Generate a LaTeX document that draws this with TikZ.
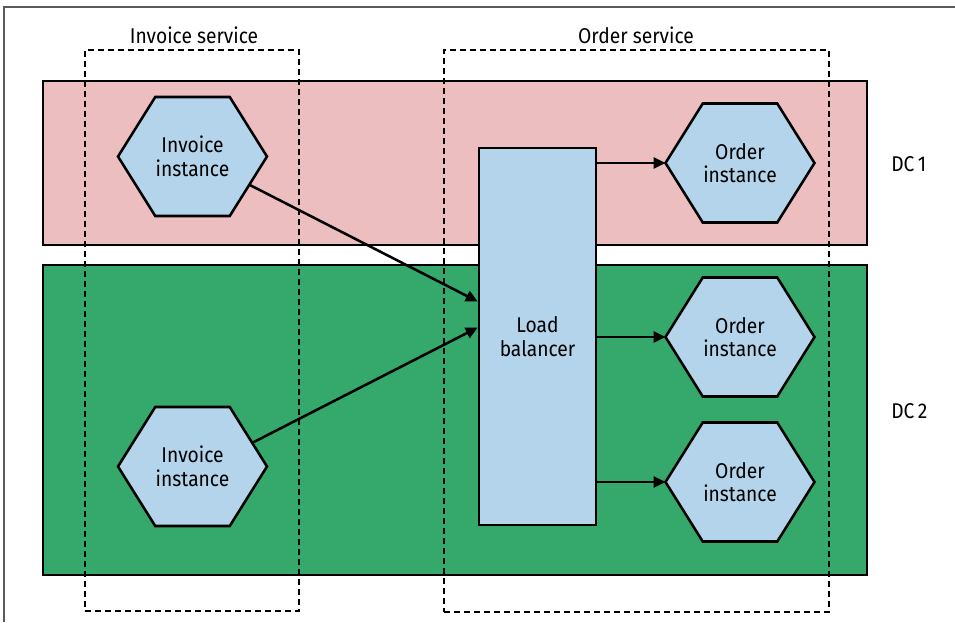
\documentclass[tikz,border=0pt]{standalone}
\usepackage{fontspec}
\setmainfont[FakeStretch=0.9]{Fira Sans}
\usetikzlibrary{arrows.meta,positioning,calc}
\definecolor{dcpink}{RGB}{236,190,192}
\definecolor{dcgreen}{RGB}{53,168,107}
\definecolor{nodeblue}{RGB}{179,212,234}
\definecolor{framegray}{RGB}{90,90,90}

\begin{document}
\begin{tikzpicture}[
  line width=1.8pt,
  txt/.style={font=\fontsize{15.2}{16.8}\selectfont, align=center, inner sep=0pt},
  dcbox/.style={draw, rectangle},
  svcbox/.style={draw, rectangle, dash pattern=on 0.15cm off 0.1cm},
  lbbox/.style={draw, rectangle, fill=nodeblue, txt, minimum width=2.925cm, minimum height=9.425cm},
  hexa/.style={txt, minimum width=3.925cm, minimum height=3.125cm, outer xsep=-0.1cm, outer ysep=-0.075cm,
    path picture={\draw[line width=1.8pt, fill=nodeblue]
      ($(path picture bounding box.center)+(-1.8625,0)$) -- ++(0.93125,1.4875) -- ++(1.8625,0)
      -- ++(0.93125,-1.4875) -- ++(-0.93125,-1.4875) -- ++(-1.8625,0) -- cycle;}},
  arr/.style={-{Triangle[length=0.3cm, width=0.28cm]}},
]
\useasboundingbox (0,0) rectangle (23.875,-15.55);
\draw[framegray, line width=1pt] (0.1,-15.55) -- (0.1,-0.175) -- (23.875,-0.175);

% data centres
\node[dcbox, fill=dcpink, minimum width=20.6cm, minimum height=4.1cm] (dc1) at (11.375,-4.075) {};
\node[dcbox, fill=dcgreen, minimum width=20.6cm, minimum height=7.75cm] (dc2) at (11.375,-10.5) {};
\node[txt, anchor=west] (dc1lbl) at (22.25,-4.1) {DC\,1};
\node[txt, anchor=west] (dc2lbl) at (22.25,-10.29) {DC\,2};

% services
\node[svcbox, minimum width=5.35cm, minimum height=14.025cm] (invsvc) at (4.8,-8.2625) {};
\node[svcbox, minimum width=9.625cm, minimum height=14.05cm] (ordsvc) at (15.9125,-8.275) {};
\node[txt] (invsvclbl) at (4.85,-0.875) {Invoice service};
\node[txt] (ordsvclbl) at (15.9,-0.875) {Order service};

\node[lbbox] (lb) at (13.4375,-8.4125) {Load\\balancer};

\node[hexa] (inv1) at (4.8125,-3.9125) {Invoice\\instance};
\node[hexa] (inv2) at (4.8125,-11.6625) {Invoice\\instance};
\node[hexa] (ord1) at (18.5,-4.075) {Order\\instance};
\node[hexa] (ord2) at (18.5,-8.425) {Order\\instance};
\node[hexa] (ord3) at (18.5,-12.05) {Order\\instance};

\draw[arr] ($(inv1.center)+(1.43,-0.71)$) -- ($(lb.west)+(0,0.875)$);
\draw[arr] ($(inv2.center)+(1.49,0.59)$) -- ($(lb.west)+(0,0.225)$);
\draw[arr] (lb.east |- ord1.west) -- (ord1.west);
\draw[arr] (lb.east |- ord2.west) -- (ord2.west);
\draw[arr] (lb.east |- ord3.west) -- (ord3.west);
\end{tikzpicture}
\end{document}
